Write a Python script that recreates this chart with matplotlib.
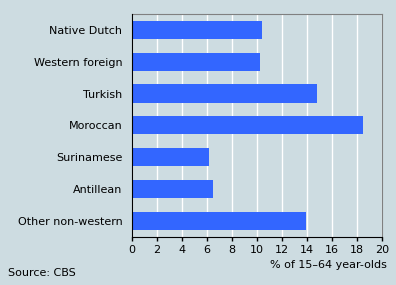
import matplotlib
matplotlib.use("Agg")
import matplotlib.pyplot as plt

categories = ["Native Dutch", "Western foreign", "Turkish", "Moroccan",
              "Surinamese", "Antillean", "Other non-western"]
values = [10.4, 10.25, 14.8, 18.5, 6.2, 6.5, 13.9]
xticks = [0, 2, 4, 6, 8, 10, 12, 14, 16, 18, 20]

bg = "#cddce1"
fig = plt.figure(figsize=(3.96, 2.85), dpi=100, facecolor=bg)
W, H = 396, 285
ax = fig.add_axes([131.5 / W, 1 - 236.7 / H, (382.3 - 131.5) / W, (236.7 - 14) / H])
ax.set_facecolor(bg)

y = list(range(len(categories)))
ax.barh(y, values, height=0.57, color="#3366ff", zorder=3)
ax.set_ylim(len(categories) - 0.5, -0.5)
ax.set_xlim(0, 20)
ax.set_xticks(xticks)
ax.set_xticklabels([str(t) for t in xticks], fontsize=8)
ax.set_yticks(y)
ax.set_yticklabels(categories, fontsize=8)
ax.tick_params(axis="y", length=0, pad=6.5)
ax.tick_params(axis="x", length=3, width=1, color="black", pad=3, direction="out")
ax.grid(axis="x", color="white", linewidth=1.0, zorder=1)
ax.set_axisbelow(True)
for s in ["top", "right"]:
    ax.spines[s].set_color("#808080")
for s in ["left", "bottom"]:
    ax.spines[s].set_color("black")
    ax.spines[s].set_zorder(4)
fig.text(387 / W, 1 - 265 / H, "% of 15\u201364 year-olds", fontsize=8, ha="right", va="center")
fig.text(8 / W, 1 - 273 / H, "Source: CBS", fontsize=8, ha="left", va="center")
fig.savefig("out.png", dpi=100, facecolor=bg)
